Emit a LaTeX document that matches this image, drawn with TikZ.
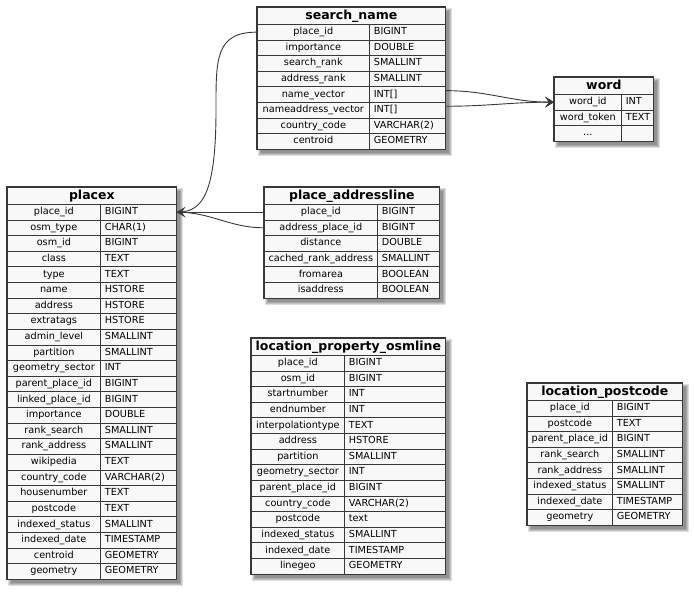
\documentclass[tikz,border=0pt]{standalone}
\usepackage{fontspec}
\setmainfont{DejaVu Sans}
\usetikzlibrary{calc,arrows.meta,backgrounds,fit}
\definecolor{tabfill}{HTML}{F8F8F8}
\definecolor{tabline}{HTML}{383838}
\def\rowh{15.62}
\def\titleh{17}
\tikzset{
  cellbase/.style={draw=tabline, line width=0.7pt, inner sep=0pt, minimum height=\rowh pt,
    text height=7.1pt, text depth=2.2pt, font=\fontsize{9.7}{11}\selectfont, anchor=north west},
  cellname/.style={cellbase, align=center},
  celltype/.style={cellbase, align=left, inner xsep=4.5pt},
  tabtitle/.style={draw=tabline, line width=0.7pt, inner sep=0pt, minimum height=\titleh pt,
    text height=9pt, text depth=2.6pt, font=\fontsize{12.5}{14}\selectfont\bfseries, anchor=north west},
  tabborder/.style={draw=tabline, line width=1.3pt, inner sep=0pt},
  conn/.style={draw=tabline, line width=0.9pt},
  connarrow/.style={conn, -{Stealth[length=9pt,width=11pt,inset=4pt]}}
}
\newcommand\dbtable[8]{%
  \pgfmathsetmacro\tabtw{#5-9}%
  \pgfmathsetmacro\tabw{#4+#5}%
  \node[tabtitle, minimum width=\tabw pt] (#1-t) at (#2,#3) {#6};
  \foreach \cn/\ct [count=\ci] in {#7} {
    \node[cellname, minimum width=#4pt] (#1-\ci-n) at (#2,{#3+\titleh+(\ci-1)*\rowh}) {\cn};
    \node[celltype, text width=\tabtw pt] (#1-\ci-t) at ({#2+#4},{#3+\titleh+(\ci-1)*\rowh}) {\ct};
  }
  \node[tabborder, fit=(#1-t)(#1-#8-t)] (#1) {};
  \begin{pgfonlayer}{background}
    \foreach \e in {-1,0,1,2} {
      \fill[black, opacity=.13] ($(#1.north west)+(4-\e,4-\e)$) rectangle ($(#1.south east)+(4+\e,4+\e)$);
    }
    \fill[tabfill] (#1.north west) rectangle (#1.south east);
  \end{pgfonlayer}
}
\begin{document}
\begin{tikzpicture}[x=1pt,y=-1pt]
\useasboundingbox (0,0) rectangle (694,593);

\dbtable{sn}{257}{7}{112}{76}{search\_name}{
  place\_id/BIGINT, importance/DOUBLE, search\_rank/SMALLINT, address\_rank/SMALLINT,
  name\_vector/{INT[]}, nameaddress\_vector/{INT[]}, country\_code/{VARCHAR(2)}, centroid/GEOMETRY}{8}

\dbtable{w}{554}{77}{67}{32}{word}{
  word\_id/INT, word\_token/TEXT, {...}/{}}{3}

\dbtable{px}{7}{187}{93}{76}{placex}{
  place\_id/BIGINT, osm\_type/{CHAR(1)}, osm\_id/BIGINT, class/TEXT, type/TEXT, name/HSTORE,
  address/HSTORE, extratags/HSTORE, admin\_level/SMALLINT, partition/SMALLINT,
  geometry\_sector/INT, parent\_place\_id/BIGINT, linked\_place\_id/BIGINT, importance/DOUBLE,
  rank\_search/SMALLINT, rank\_address/SMALLINT, wikipedia/TEXT, country\_code/{VARCHAR(2)},
  housenumber/TEXT, postcode/TEXT, indexed\_status/SMALLINT, indexed\_date/TIMESTAMP,
  centroid/GEOMETRY, geometry/GEOMETRY}{24}

\dbtable{pa}{264}{187}{113}{62}{place\_addressline}{
  place\_id/BIGINT, address\_place\_id/BIGINT, distance/DOUBLE, cached\_rank\_address/SMALLINT,
  fromarea/BOOLEAN, isaddress/BOOLEAN}{6}

\dbtable{lo}{251}{338}{93}{101}{location\_property\_osmline}{
  place\_id/BIGINT, osm\_id/BIGINT, startnumber/INT, endnumber/INT, interpolationtype/TEXT,
  address/HSTORE, partition/SMALLINT, geometry\_sector/INT, parent\_place\_id/BIGINT,
  country\_code/{VARCHAR(2)}, postcode/text, indexed\_status/SMALLINT, indexed\_date/TIMESTAMP,
  linegeo/GEOMETRY}{14}

\dbtable{lp}{527}{383}{85}{70}{location\_postcode}{
  place\_id/BIGINT, postcode/TEXT, parent\_place\_id/BIGINT, rank\_search/SMALLINT,
  rank\_address/SMALLINT, indexed\_status/SMALLINT, indexed\_date/TIMESTAMP, geometry/GEOMETRY}{8}

% connectors
\draw[conn] (sn-1-n.west) .. controls (215,32) and (216,60) .. (216,110)
  .. controls (216,200) and (200,212) .. (px-1-t.east);
\draw[conn] (pa-2-n.west) to[out=180,in=0] (px-1-t.east);
\draw[connarrow] (pa-1-n.west) -- (px-1-t.east);
\draw[connarrow] ([yshift=4pt]sn-5-t.east) to[out=0,in=180] (w-1-n.west);
\draw[connarrow] ([yshift=4pt]sn-6-t.east) to[out=0,in=180] (w-1-n.west);
\end{tikzpicture}
\end{document}
